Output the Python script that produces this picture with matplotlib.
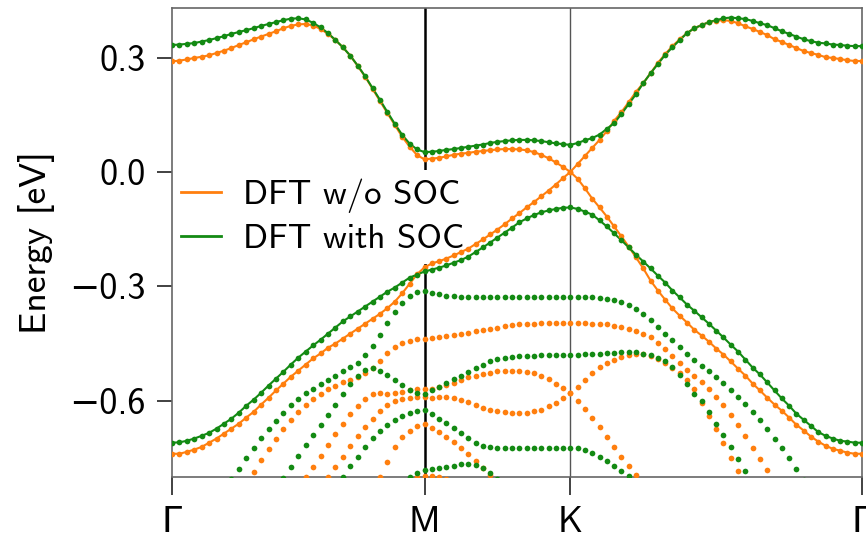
import numpy as np
import matplotlib
matplotlib.use("Agg")
import matplotlib.pyplot as plt
from matplotlib.lines import Line2D

plt.rcParams['font.family'] = ['cmss10', 'DejaVu Sans']
plt.rcParams['axes.unicode_minus'] = True

nan = float('nan')

# high-symmetry path and number of k-points per segment
labels = ['Γ', 'M', 'K', 'Γ']
seg_len = [1 / np.sqrt(3), 1 / 3, 2 / 3]
seg_pts = [34, 20, 40]

# ---- DFT w/o SOC (orange), energies in eV, 95 k-points: G-M | M-K | K-G
o1 = [0.290, 0.292, 0.295, 0.299, 0.302, 0.306, 0.312, 0.318, 0.325, 0.333, 0.340, 0.348,
      0.355, 0.362, 0.369, 0.377, 0.383, 0.387, 0.388, 0.384, 0.375, 0.362, 0.346, 0.327,
      0.305, 0.278, 0.250, 0.218, 0.186, 0.154, 0.123, 0.092, 0.066, 0.044, 0.033,
      0.035, 0.037, 0.041, 0.045, 0.048, 0.050, 0.053, 0.055, 0.057, 0.059, 0.060, 0.060,
      0.059, 0.057, 0.052, 0.045, 0.036, 0.025, 0.013, 0.000,
      0.021, 0.042, 0.063, 0.084, 0.107, 0.134, 0.157, 0.183, 0.210, 0.233, 0.259, 0.286,
      0.309, 0.330, 0.348, 0.364, 0.377, 0.385, 0.393, 0.397, 0.398, 0.396, 0.390, 0.382,
      0.375, 0.367, 0.359, 0.348, 0.341, 0.333, 0.325, 0.317, 0.312, 0.307, 0.301, 0.299,
      0.296, 0.293, 0.291, 0.291]
o2 = [-0.739, -0.739, -0.734, -0.728, -0.721, -0.710, -0.699, -0.686, -0.673, -0.660, -0.644,
      -0.629, -0.610, -0.592, -0.573, -0.555, -0.537, -0.521, -0.505, -0.489, -0.476, -0.461,
      -0.450, -0.437, -0.424, -0.411, -0.398, -0.385, -0.372, -0.357, -0.340, -0.318, -0.293,
      -0.268, -0.250,
      -0.240, -0.234, -0.227, -0.219, -0.210, -0.201, -0.189, -0.177, -0.164, -0.151, -0.137,
      -0.122, -0.108, -0.093, -0.079, -0.064, -0.049, -0.033, -0.016, 0.000,
      -0.018, -0.043, -0.070, -0.093, -0.117, -0.143, -0.169, -0.196, -0.224, -0.253, -0.285,
      -0.311, -0.335, -0.358, -0.377, -0.395, -0.414, -0.429, -0.445, -0.463, -0.479, -0.497,
      -0.516, -0.534, -0.555, -0.573, -0.592, -0.610, -0.626, -0.644, -0.663, -0.678, -0.694,
      -0.707, -0.718, -0.726, -0.731, -0.736, -0.739, -0.739]
o3 = [nan] * 10 + [
      -0.810, -0.787, -0.756, -0.727, -0.701, -0.674, -0.651, -0.630, -0.611, -0.595, -0.582,
      -0.569, -0.561, -0.551, -0.545, -0.538, -0.527, -0.514, -0.496, -0.475, -0.459, -0.448,
      -0.442, -0.439, -0.438,
      -0.435, -0.433, -0.430, -0.427, -0.424, -0.422, -0.418, -0.414, -0.411, -0.408, -0.404,
      -0.402, -0.400, -0.399, -0.398, -0.397, -0.396, -0.396, -0.396, -0.396,
      -0.396, -0.397, -0.398, -0.399, -0.400, -0.403, -0.407, -0.411, -0.417, -0.425, -0.434,
      -0.448, -0.463, -0.482, -0.500, -0.519, -0.534, -0.550, -0.568, -0.589, -0.610, -0.637,
      -0.663, -0.692, -0.723, -0.752, -0.781, -0.810] + [nan] * 12
o4 = [nan] * 18 + [
      -0.800, -0.775, -0.746, -0.717, -0.688, -0.662, -0.636, -0.615, -0.596, -0.583, -0.580,
      -0.583, -0.580, -0.578, -0.572, -0.570, -0.570,
      -0.568, -0.563, -0.558, -0.553, -0.546, -0.539, -0.534, -0.530, -0.526, -0.522, -0.521,
      -0.521, -0.521, -0.524, -0.528, -0.534, -0.544, -0.555, -0.567, -0.579,
      -0.563, -0.545, -0.526, -0.511, -0.500, -0.492, -0.486, -0.481, -0.478, -0.478, -0.482,
      -0.490, -0.501, -0.514, -0.527, -0.545, -0.569, -0.605, -0.640, -0.675, -0.712, -0.750,
      -0.785, -0.815] + [nan] * 16
o5 = [nan] * 21 + [
      -0.800, -0.774, -0.748, -0.719, -0.693, -0.669, -0.648, -0.627, -0.611, -0.601, -0.595,
      -0.593, -0.590, -0.590,
      -0.592, -0.590, -0.590, -0.593, -0.597, -0.604, -0.611, -0.618, -0.623, -0.627, -0.630,
      -0.631, -0.632, -0.631, -0.628, -0.623, -0.615, -0.605, -0.593, -0.579,
      -0.600, -0.621, -0.645, -0.669, -0.695, -0.721, -0.747, -0.771, -0.795, -0.818] + [nan] * 30
o6 = [nan] * 28 + [
      -0.800, -0.760, -0.720, -0.695, -0.678, -0.667, -0.661,
      -0.671, -0.682, -0.695, -0.708, -0.724, -0.739, -0.757, -0.776, -0.795, -0.813] + [nan] * 50
o7 = [nan] * 32 + [-0.805, -0.800, -0.797, -0.798, -0.801, -0.806] + [nan] * 57

# ---- DFT with SOC (green)
g1 = [0.333, 0.334, 0.336, 0.338, 0.342, 0.346, 0.351, 0.356, 0.362, 0.367, 0.372, 0.377,
      0.383, 0.388, 0.393, 0.398, 0.402, 0.403, 0.400, 0.391, 0.379, 0.364, 0.346, 0.327,
      0.305, 0.279, 0.251, 0.220, 0.189, 0.157, 0.126, 0.097, 0.074, 0.059, 0.052,
      0.053, 0.055, 0.058, 0.060, 0.063, 0.066, 0.069, 0.072, 0.076, 0.079, 0.081, 0.083,
      0.084, 0.084, 0.083, 0.081, 0.078, 0.075, 0.073, 0.071,
      0.076, 0.083, 0.089, 0.098, 0.113, 0.128, 0.152, 0.178, 0.204, 0.233, 0.259, 0.283,
      0.307, 0.327, 0.346, 0.364, 0.377, 0.385, 0.393, 0.398, 0.403, 0.405, 0.403, 0.401,
      0.396, 0.390, 0.385, 0.377, 0.369, 0.362, 0.355, 0.348, 0.343, 0.339, 0.337, 0.334,
      0.333, 0.331, 0.330, 0.330]
g2 = [-0.710, -0.709, -0.705, -0.699, -0.692, -0.684, -0.673, -0.660, -0.647, -0.631, -0.613,
      -0.597, -0.579, -0.560, -0.542, -0.524, -0.505, -0.487, -0.471, -0.455, -0.440, -0.424,
      -0.408, -0.392, -0.379, -0.366, -0.353, -0.340, -0.327, -0.314, -0.303, -0.290, -0.277,
      -0.269, -0.261,
      -0.256, -0.251, -0.245, -0.238, -0.231, -0.222, -0.210, -0.198, -0.185, -0.172, -0.159,
      -0.146, -0.132, -0.122, -0.113, -0.106, -0.101, -0.097, -0.094, -0.093,
      -0.097, -0.104, -0.112, -0.127, -0.143, -0.161, -0.179, -0.198, -0.217, -0.235, -0.253,
      -0.272, -0.290, -0.311, -0.329, -0.348, -0.364, -0.381, -0.398, -0.416, -0.434, -0.453,
      -0.471, -0.492, -0.513, -0.531, -0.552, -0.573, -0.594, -0.613, -0.634, -0.650, -0.666,
      -0.682, -0.692, -0.699, -0.705, -0.707, -0.710, -0.710]
g3 = [nan] * 8 + [
      -0.805, -0.779, -0.750, -0.724, -0.698, -0.674, -0.653, -0.632, -0.611, -0.596, -0.580,
      -0.569, -0.556, -0.545, -0.535, -0.522, -0.512, -0.501, -0.480, -0.456, -0.428, -0.396,
      -0.367, -0.343, -0.325, -0.314, -0.312,
      -0.317, -0.321, -0.324, -0.326, -0.327, -0.328, -0.329, -0.329, -0.329, -0.329, -0.329,
      -0.329, -0.329, -0.329, -0.329, -0.329, -0.329, -0.329, -0.329, -0.329,
      -0.329, -0.329, -0.329, -0.331, -0.332, -0.335, -0.340, -0.348, -0.359, -0.372, -0.387,
      -0.406, -0.424, -0.440, -0.458, -0.477, -0.492, -0.508, -0.521, -0.537, -0.553, -0.571,
      -0.590, -0.608, -0.629, -0.650, -0.673, -0.700, -0.723, -0.750, -0.779, -0.808] + [nan] * 8
g4 = [nan] * 15 + [
      -0.803, -0.774, -0.745, -0.716, -0.690, -0.664, -0.637, -0.611, -0.582, -0.556, -0.535,
      -0.519, -0.514, -0.522, -0.532, -0.545, -0.558, -0.571, -0.579, -0.581,
      -0.573, -0.563, -0.553, -0.544, -0.534, -0.524, -0.513, -0.505, -0.497, -0.491, -0.487,
      -0.484, -0.483, -0.482, -0.482, -0.481, -0.481, -0.479, -0.479, -0.479,
      -0.479, -0.478, -0.477, -0.477, -0.475, -0.474, -0.471, -0.471, -0.473, -0.477, -0.481,
      -0.487, -0.496, -0.511, -0.532, -0.555, -0.582, -0.600, -0.630, -0.660, -0.690, -0.722,
      -0.752, -0.783, -0.812] + [nan] * 15
g5 = [nan] * 23 + [
      -0.800, -0.771, -0.748, -0.722, -0.698, -0.680, -0.664, -0.651, -0.640, -0.632, -0.627,
      -0.625,
      -0.636, -0.647, -0.659, -0.671, -0.684, -0.698, -0.710, -0.718, -0.722, -0.723, -0.724,
      -0.724, -0.724, -0.724, -0.724, -0.724, -0.724, -0.724, -0.724, -0.724,
      -0.725, -0.729, -0.737, -0.748, -0.758, -0.771, -0.784, -0.797, -0.810] + [nan] * 31
g6 = [nan] * 32 + [-0.800, -0.789, -0.782,
      -0.779, -0.776, -0.774, -0.771, -0.767, -0.766, -0.768, -0.776, -0.789, -0.805] + [nan] * 50

orange_bands = [o1, o2, o3, o4, o5, o6, o7]
green_bands = [g1, g2, g3, g4, g5, g6]
lined = 2  # the two bands around the Dirac point are also drawn as lines

# k axis
nodes = np.concatenate([[0], np.cumsum(seg_len)])
k = np.concatenate([np.linspace(nodes[i], nodes[i + 1], seg_pts[i], endpoint=False)
                    for i in range(3)] + [[nodes[-1]]])

c_or = '#ff7f0e'
c_gr = '#138a13'

fig = plt.figure(figsize=(8.66, 5.43), dpi=100)
ax = fig.add_axes([0.1986, 0.1215, 0.7968, 0.8638])

for bands, c in [(orange_bands, c_or), (green_bands, c_gr)]:
    for j, b in enumerate(bands):
        e = np.array(b, dtype=float)
        assert len(e) == len(k), (len(e), j)
        if j < lined:
            ax.plot(k, e, '-', color=c, lw=1.5, zorder=2)
        ax.plot(k, e, 'o', color=c, ms=4.1, mew=0, zorder=3)

ax.axvline(nodes[1], color='black', lw=1.8, zorder=1)
ax.axvline(nodes[2], color='#555555', lw=1.0, zorder=1)

ax.set_xlim(nodes[0], nodes[-1])
ax.set_ylim(-0.80, 0.43)
ax.set_xticks(nodes)
ax.set_xticklabels(labels, fontsize=26)
ax.set_yticks([0.3, 0.0, -0.3, -0.6])
ax.set_yticklabels(['0.3', '0.0', '\u22120.3', '\u22120.6'], fontsize=26)
ax.tick_params(axis='x', length=13, width=1.3, pad=8, color='#333333')
ax.tick_params(axis='y', length=11, width=1.3, pad=8, color='#333333')
ax.set_ylabel('Energy [eV]', fontsize=27, labelpad=10)
for s in ax.spines.values():
    s.set_color('#666666')
    s.set_linewidth(1.2)

# white legend box hides the M line but sits under the bands
handles = [Line2D([], [], color=c_or, lw=2), Line2D([], [], color=c_gr, lw=2)]
leg = ax.legend(handles, ['DFT w/o SOC', 'DFT with SOC'], loc='upper left',
                bbox_to_anchor=(0.0, 0.655), fontsize=25, frameon=True,
                handlelength=1.15, handletextpad=0.65, labelspacing=0.32,
                borderpad=0.25, borderaxespad=0.0)
leg.get_frame().set_edgecolor('none')
leg.get_frame().set_facecolor('white')
leg.get_frame().set_alpha(1.0)
leg.set_zorder(1.5)

fig.savefig('out.png', dpi=100)
